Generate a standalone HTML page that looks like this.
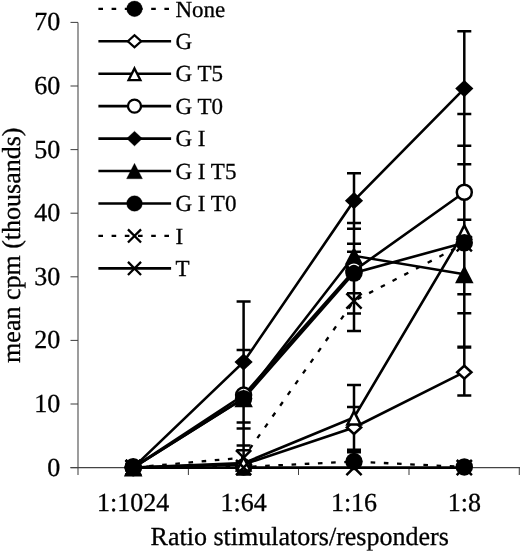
<!DOCTYPE html>
<html><head><meta charset="utf-8"><title>chart</title>
<style>html,body{margin:0;padding:0;background:#fff}body{width:520px;height:552px;overflow:hidden}</style></head>
<body>
<svg width="520" height="552" viewBox="0 0 520 552" style="display:block;filter:grayscale(1) blur(0.3px)" text-rendering="geometricPrecision">
<rect width="520" height="552" fill="#fff"/>
<g stroke="#444" stroke-width="1.05" fill="none">
<path d="M78.0 22.5V475"/>
<path d="M70.5 467.6H520"/>
<path d="M70.5 467.60H78.0"/>
<path d="M70.5 404.00H78.0"/>
<path d="M70.5 340.40H78.0"/>
<path d="M70.5 276.80H78.0"/>
<path d="M70.5 213.20H78.0"/>
<path d="M70.5 149.60H78.0"/>
<path d="M70.5 86.00H78.0"/>
<path d="M70.5 22.40H78.0"/>
<path d="M188.4 467.6V475"/>
<path d="M298.5 467.6V475"/>
<path d="M409.0 467.6V475"/>
<path d="M519.3 467.6V475"/>
</g>
<g font-family="'Liberation Serif', serif" font-size="26" fill="#000" stroke="#000" stroke-width="0.3" text-anchor="end">
<text x="60.2" y="475.50">0</text>
<text x="60.2" y="411.90">10</text>
<text x="60.2" y="348.30">20</text>
<text x="60.2" y="284.70">30</text>
<text x="60.2" y="221.10">40</text>
<text x="60.2" y="157.50">50</text>
<text x="60.2" y="93.90">60</text>
<text x="60.2" y="30.30">70</text>
</g>
<g font-family="'Liberation Serif', serif" font-size="26" fill="#000" stroke="#000" stroke-width="0.3" text-anchor="middle">
<text x="133.2" y="511">1:1024</text>
<text x="243.6" y="511">1:64</text>
<text x="354.0" y="511">1:16</text>
<text x="464.3" y="511">1:8</text>
</g>
<text font-family="'Liberation Serif', serif" font-size="26" fill="#000" stroke="#000" stroke-width="0.3" text-anchor="middle" x="299.7" y="544.8">Ratio stimulators/responders</text>
<text font-family="'Liberation Serif', serif" font-size="26" fill="#000" stroke="#000" stroke-width="0.3" text-anchor="middle" transform="translate(20.1 245.2) rotate(-90)">mean cpm (thousands)</text>
<path d="M243.6 301.4V458M236.6 301.4H250.6M236.6 350.1H250.6M236.6 422.5H250.6M236.6 428.5H250.6M236.6 445.6H250.6M236.6 450.3H250.6" stroke="#000" stroke-width="2.5" fill="none"/>
<path d="M243.6 460V474.6M236.6 474.6H250.6" stroke="#000" stroke-width="2.5" fill="none"/>
<path d="M354.0 173.2V331.1M347.0 173.2H361.0M347.0 223H361.0M347.0 228.8H361.0M347.0 243.8H361.0M347.0 251.7H361.0M347.0 293.3H361.0M347.0 313.6H361.0M347.0 331.1H361.0" stroke="#000" stroke-width="2.5" fill="none"/>
<path d="M354.0 385.1V452M347.0 385.1H361.0M347.0 407.1H361.0M347.0 449.7H361.0M347.0 452.2H361.0" stroke="#000" stroke-width="2.5" fill="none"/>
<path d="M464.3 31.2V395.5M457.3 31.2H471.3M457.3 113.9H471.3M457.3 145.7H471.3M457.3 164.2H471.3M457.3 219.8H471.3M457.3 294.3H471.3M457.3 313.3H471.3M457.3 346.8H471.3M457.3 347.6H471.3M457.3 395.5H471.3" stroke="#000" stroke-width="2.5" fill="none"/>
<polyline points="133.2,466.65 243.6,466.96 354.0,461.56 464.3,466.96" fill="none" stroke="#000" stroke-width="2.3" stroke-dasharray="4.6 8.6"/>
<polyline points="133.2,467.60 243.6,464.42 354.0,427.53 464.3,372.20" fill="none" stroke="#000" stroke-width="2.6"/>
<polyline points="133.2,467.60 243.6,463.15 354.0,417.36 464.3,231.33" fill="none" stroke="#000" stroke-width="2.6"/>
<polyline points="133.2,467.60 243.6,395.10 354.0,270.76 464.3,192.21" fill="none" stroke="#000" stroke-width="2.6"/>
<polyline points="133.2,467.60 243.6,362.02 354.0,200.67 464.3,88.54" fill="none" stroke="#000" stroke-width="2.6"/>
<polyline points="133.2,467.60 243.6,398.28 354.0,255.81 464.3,274.26" fill="none" stroke="#000" stroke-width="2.6"/>
<polyline points="133.2,467.60 243.6,398.59 354.0,272.98 464.3,242.77" fill="none" stroke="#000" stroke-width="2.6"/>
<polyline points="133.2,467.60 243.6,457.61 354.0,300.97 464.3,243.73" fill="none" stroke="#000" stroke-width="2.3" stroke-dasharray="4.6 8.6" stroke-dashoffset="-2.7"/>
<polyline points="133.2,467.60 243.6,467.60 354.0,467.60 464.3,467.60" fill="none" stroke="#000" stroke-width="2.6"/>
<circle cx="133.2" cy="466.65" r="8.7" fill="#000"/>
<circle cx="243.6" cy="466.96" r="8.7" fill="#000"/>
<circle cx="354.0" cy="461.56" r="8.7" fill="#000"/>
<circle cx="464.3" cy="466.96" r="8.7" fill="#000"/>
<path d="M126.07 467.6L133.2 461.17L140.33 467.6L133.2 474.03Z" fill="#fff" stroke="#000" stroke-width="2.5"/>
<path d="M236.47 464.42L243.6 457.99L250.73 464.42L243.6 470.85Z" fill="#fff" stroke="#000" stroke-width="2.5"/>
<path d="M346.87 427.53L354.0 421.1L361.13 427.53L354.0 433.96Z" fill="#fff" stroke="#000" stroke-width="2.5"/>
<path d="M457.17 372.2L464.3 365.77L471.43 372.2L464.3 378.63Z" fill="#fff" stroke="#000" stroke-width="2.5"/>
<path d="M133.2 461.65L139.85 474.85L126.55 474.85Z" fill="#fff" stroke="#000" stroke-width="2.5"/>
<path d="M243.6 457.2L250.25 470.4L236.95 470.4Z" fill="#fff" stroke="#000" stroke-width="2.5"/>
<path d="M354.0 411.41L360.65 424.61L347.35 424.61Z" fill="#fff" stroke="#000" stroke-width="2.5"/>
<path d="M464.3 225.38L470.95 238.58L457.65 238.58Z" fill="#fff" stroke="#000" stroke-width="2.5"/>
<circle cx="133.2" cy="467.6" r="7.5" fill="#fff" stroke="#000" stroke-width="2.5"/>
<circle cx="243.6" cy="395.1" r="7.5" fill="#fff" stroke="#000" stroke-width="2.5"/>
<circle cx="354.0" cy="270.76" r="7.5" fill="#fff" stroke="#000" stroke-width="2.5"/>
<circle cx="464.3" cy="192.21" r="7.5" fill="#fff" stroke="#000" stroke-width="2.5"/>
<path d="M124.1 467.6L133.2 459.0L142.3 467.6L133.2 476.2Z" fill="#000"/>
<path d="M234.5 362.02L243.6 353.42L252.7 362.02L243.6 370.62Z" fill="#000"/>
<path d="M344.9 200.67L354.0 192.07L363.1 200.67L354.0 209.27Z" fill="#000"/>
<path d="M455.2 88.54L464.3 79.94L473.4 88.54L464.3 97.14Z" fill="#000"/>
<path d="M133.2 458.6L142.45 476.6L123.95 476.6Z" fill="#000"/>
<path d="M243.6 389.28L252.85 407.28L234.35 407.28Z" fill="#000"/>
<path d="M354.0 246.81L363.25 264.81L344.75 264.81Z" fill="#000"/>
<path d="M464.3 265.26L473.55 283.26L455.05 283.26Z" fill="#000"/>
<circle cx="133.2" cy="467.6" r="8.7" fill="#000"/>
<circle cx="243.6" cy="398.59" r="8.7" fill="#000"/>
<circle cx="354.0" cy="272.98" r="8.7" fill="#000"/>
<circle cx="464.3" cy="242.77" r="8.7" fill="#000"/>
<path d="M125.6 460.0L140.8 475.2M125.6 475.2L140.8 460.0" stroke="#000" stroke-width="2.5" fill="none"/>
<path d="M236.0 450.01L251.2 465.21M236.0 465.21L251.2 450.01" stroke="#000" stroke-width="2.5" fill="none"/>
<path d="M346.4 293.37L361.6 308.57M346.4 308.57L361.6 293.37" stroke="#000" stroke-width="2.5" fill="none"/>
<path d="M456.7 236.13L471.9 251.33M456.7 251.33L471.9 236.13" stroke="#000" stroke-width="2.5" fill="none"/>
<path d="M125.6 460.0L140.8 475.2M125.6 475.2L140.8 460.0" stroke="#000" stroke-width="2.5" fill="none"/>
<path d="M236.0 460.0L251.2 475.2M236.0 475.2L251.2 460.0" stroke="#000" stroke-width="2.5" fill="none"/>
<path d="M346.4 460.0L361.6 475.2M346.4 475.2L361.6 460.0" stroke="#000" stroke-width="2.5" fill="none"/>
<path d="M456.7 460.0L471.9 475.2M456.7 475.2L471.9 460.0" stroke="#000" stroke-width="2.5" fill="none"/>
<path d="M348.9 266.2Q353.9 262.2 358.9 266.2" stroke="#fff" stroke-width="1.3" fill="none"/>
<g font-family="'Liberation Serif', serif" font-size="23" fill="#000" stroke="#000" stroke-width="0.3">
<path d="M98.4 8.80H171.1" stroke="#000" stroke-width="2.3" stroke-dasharray="4.6 8.6"/>
<circle cx="134.5" cy="8.8" r="7.83" fill="#000"/>
<text x="175.5" y="16.50">None</text>
<path d="M98.4 41.25H171.1" stroke="#000" stroke-width="2.6"/>
<path d="M127.85 41.25L134.5 35.25L141.15 41.25L134.5 47.25Z" fill="#fff" stroke="#000" stroke-width="2.3"/>
<text x="175.5" y="48.95">G</text>
<path d="M98.4 73.70H171.1" stroke="#000" stroke-width="2.6"/>
<path d="M134.5 68.4L140.44 80.2L128.56 80.2Z" fill="#fff" stroke="#000" stroke-width="2.3"/>
<text x="175.5" y="81.40">G T5</text>
<path d="M98.4 106.15H171.1" stroke="#000" stroke-width="2.6"/>
<circle cx="134.5" cy="106.15" r="6.51" fill="#fff" stroke="#000" stroke-width="2.3"/>
<text x="175.5" y="113.85">G T0</text>
<path d="M98.4 138.60H171.1" stroke="#000" stroke-width="2.6"/>
<path d="M126.67 138.6L134.5 131.2L142.33 138.6L134.5 146.0Z" fill="#000"/>
<text x="175.5" y="146.30">G I</text>
<path d="M98.4 171.05H171.1" stroke="#000" stroke-width="2.6"/>
<path d="M134.5 163.31L142.46 178.79L126.55 178.79Z" fill="#000"/>
<text x="175.5" y="178.75">G I T5</text>
<path d="M98.4 203.50H171.1" stroke="#000" stroke-width="2.6"/>
<circle cx="134.5" cy="203.5" r="7.83" fill="#000"/>
<text x="175.5" y="211.20">G I T0</text>
<path d="M98.4 235.95H171.1" stroke="#000" stroke-width="2.3" stroke-dasharray="4.6 8.6"/>
<path d="M127.96 229.41L141.04 242.49M127.96 242.49L141.04 229.41" stroke="#000" stroke-width="2.3" fill="none"/>
<text x="175.5" y="243.65">I</text>
<path d="M98.4 268.40H171.1" stroke="#000" stroke-width="2.6"/>
<path d="M127.96 261.86L141.04 274.94M127.96 274.94L141.04 261.86" stroke="#000" stroke-width="2.3" fill="none"/>
<text x="175.5" y="276.10">T</text>
</g>
</svg>
</body></html>
